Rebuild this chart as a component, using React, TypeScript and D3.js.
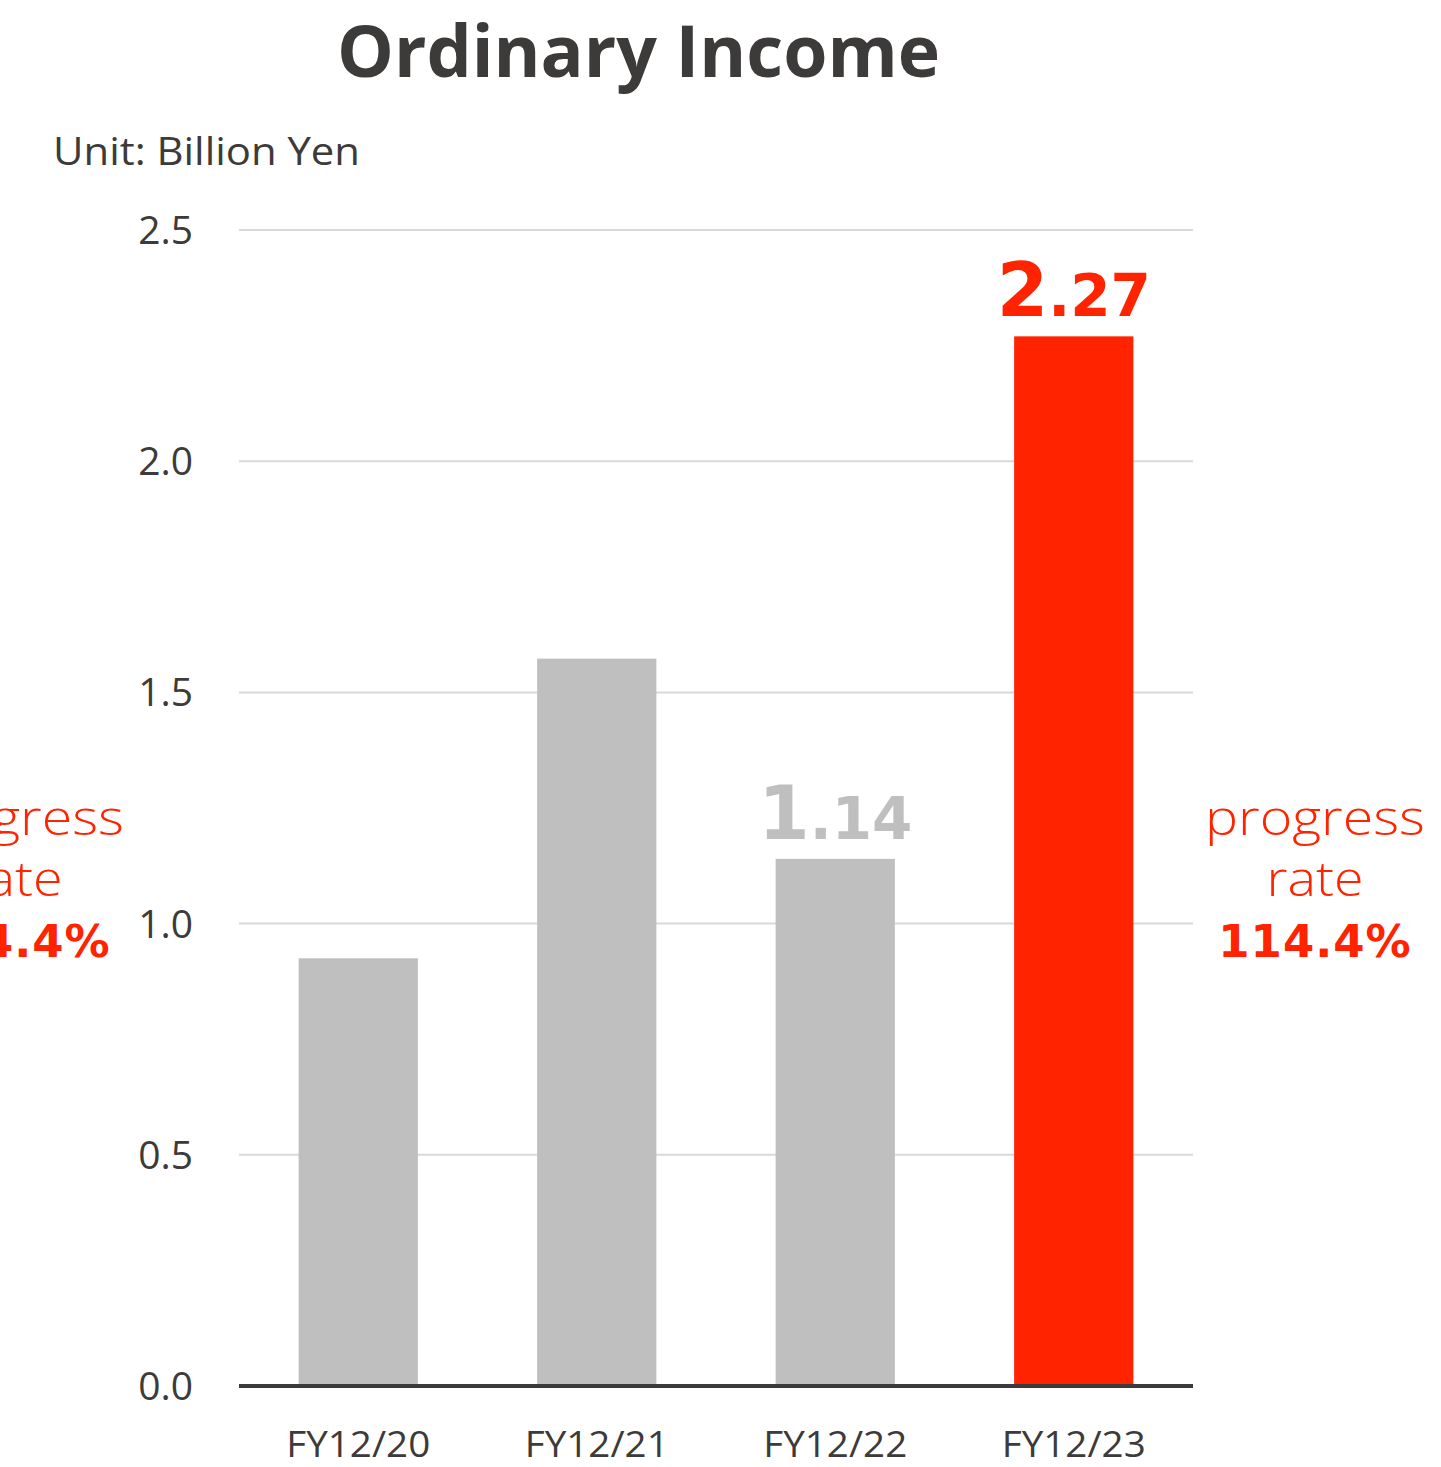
import { useEffect, useRef } from "react";
import * as d3 from "d3";

const W = 1441;
const H = 1467;

const years = ["FY12/20", "FY12/21", "FY12/22", "FY12/23"];
const income = [0.925, 1.573, 1.14, 2.27];
const yTicks = [0, 0.5, 1.0, 1.5, 2.0, 2.5];
const progressLines = ["progress", "rate"];
const progressLens = [220, 97];
const progressValue = "114.4%";

const RED = "#ff2300";
const GREY = "#bfbfbf";
const DARK = "#3d3a3a";
const SANS = "'Open Sans', 'Lato', sans-serif";
const NUM = "'DejaVu Sans', sans-serif";

export default function App() {
  const svgRef = useRef<SVGSVGElement>(null);

  useEffect(() => {
    document.body.style.margin = "0";
    const svg = d3.select(svgRef.current);
    svg.selectAll("*").remove();

    const x = d3.scaleBand().domain(years).range([239, 1193]).paddingInner(0.5).paddingOuter(0.25);
    const y = d3.scaleLinear().domain([0, 2.5]).range([1386, 230]);

    // title
    svg.append("text")
      .attr("x", 337).attr("y", 77)
      .attr("textLength", 603).attr("lengthAdjust", "spacingAndGlyphs")
      .style("font-family", SANS).style("font-weight", 700).style("font-size", "72px")
      .style("fill", DARK)
      .text("Ordinary Income");

    svg.append("text")
      .attr("x", 53).attr("y", 165)
      .attr("textLength", 307).attr("lengthAdjust", "spacingAndGlyphs")
      .style("font-family", SANS).style("font-size", "38px")
      .style("fill", DARK)
      .text("Unit: Billion Yen");

    // grid
    svg.append("g").selectAll("line")
      .data(yTicks.slice(1))
      .join("line")
      .attr("x1", 239).attr("x2", 1193)
      .attr("y1", (d) => y(d)).attr("y2", (d) => y(d))
      .style("stroke", "#d9d9d9").style("stroke-width", 2);

    svg.append("g").selectAll("text")
      .data(yTicks)
      .join("text")
      .attr("x", 193).attr("y", (d) => y(d) + 14)
      .attr("text-anchor", "end")
      .style("font-family", SANS).style("font-size", "39px")
      .style("fill", DARK)
      .text((d) => d3.format(".1f")(d));

    // bars
    svg.append("g").selectAll("rect")
      .data(income)
      .join("rect")
      .attr("x", (_, i) => x(years[i])!)
      .attr("width", x.bandwidth())
      .attr("y", (d) => y(d))
      .attr("height", (d) => y(0) - y(d))
      .style("fill", (_, i) => (i === 3 ? RED : GREY));

    // baseline
    svg.append("line")
      .attr("x1", 239).attr("x2", 1193)
      .attr("y1", y(0)).attr("y2", y(0))
      .style("stroke", DARK).style("stroke-width", 4);

    svg.append("g").selectAll("text")
      .data(years)
      .join("text")
      .attr("x", (d) => x(d)! + x.bandwidth() / 2 - 72)
      .attr("y", 1457)
      .attr("textLength", 144).attr("lengthAdjust", "spacingAndGlyphs")
      .style("font-family", SANS).style("font-size", "36px")
      .style("fill", DARK)
      .text((d) => d);

    // value labels
    const labelIdx = [2, 3];
    labelIdx.forEach((i) => {
      const v = income[i];
      const s = v.toFixed(2);
      const t = svg.append("text")
        .attr("x", x(years[i])! + x.bandwidth() / 2)
        .attr("y", y(v) - 20)
        .attr("text-anchor", "middle")
        .style("font-family", NUM).style("font-weight", 700)
        .style("fill", i === 3 ? RED : GREY);
      t.append("tspan").style("font-size", "74px").text(s.slice(0, 1));
      t.append("tspan").style("font-size", "58px").text(s.slice(1));
    });

    // progress rate notes
    [14, 1315].forEach((cx) => {
      const g = svg.append("g").style("fill", RED).attr("text-anchor", "middle");
      progressLines.forEach((line, k) => {
        g.append("text")
          .attr("x", cx - progressLens[k] / 2).attr("y", 835 + k * 61)
          .attr("text-anchor", "start")
          .attr("textLength", progressLens[k]).attr("lengthAdjust", "spacingAndGlyphs")
          .style("font-family", SANS).style("font-weight", 300).style("font-size", "47px")
          .text(line);
      });
      g.append("text")
        .attr("x", cx).attr("y", 957)
        .style("font-family", NUM).style("font-weight", 700).style("font-size", "45px")
        .style("letter-spacing", "1px")
        .text(progressValue);
    });
  }, []);

  return <svg ref={svgRef} width={W} height={H} style={{ display: "block", background: "#fff" }} />;
}
